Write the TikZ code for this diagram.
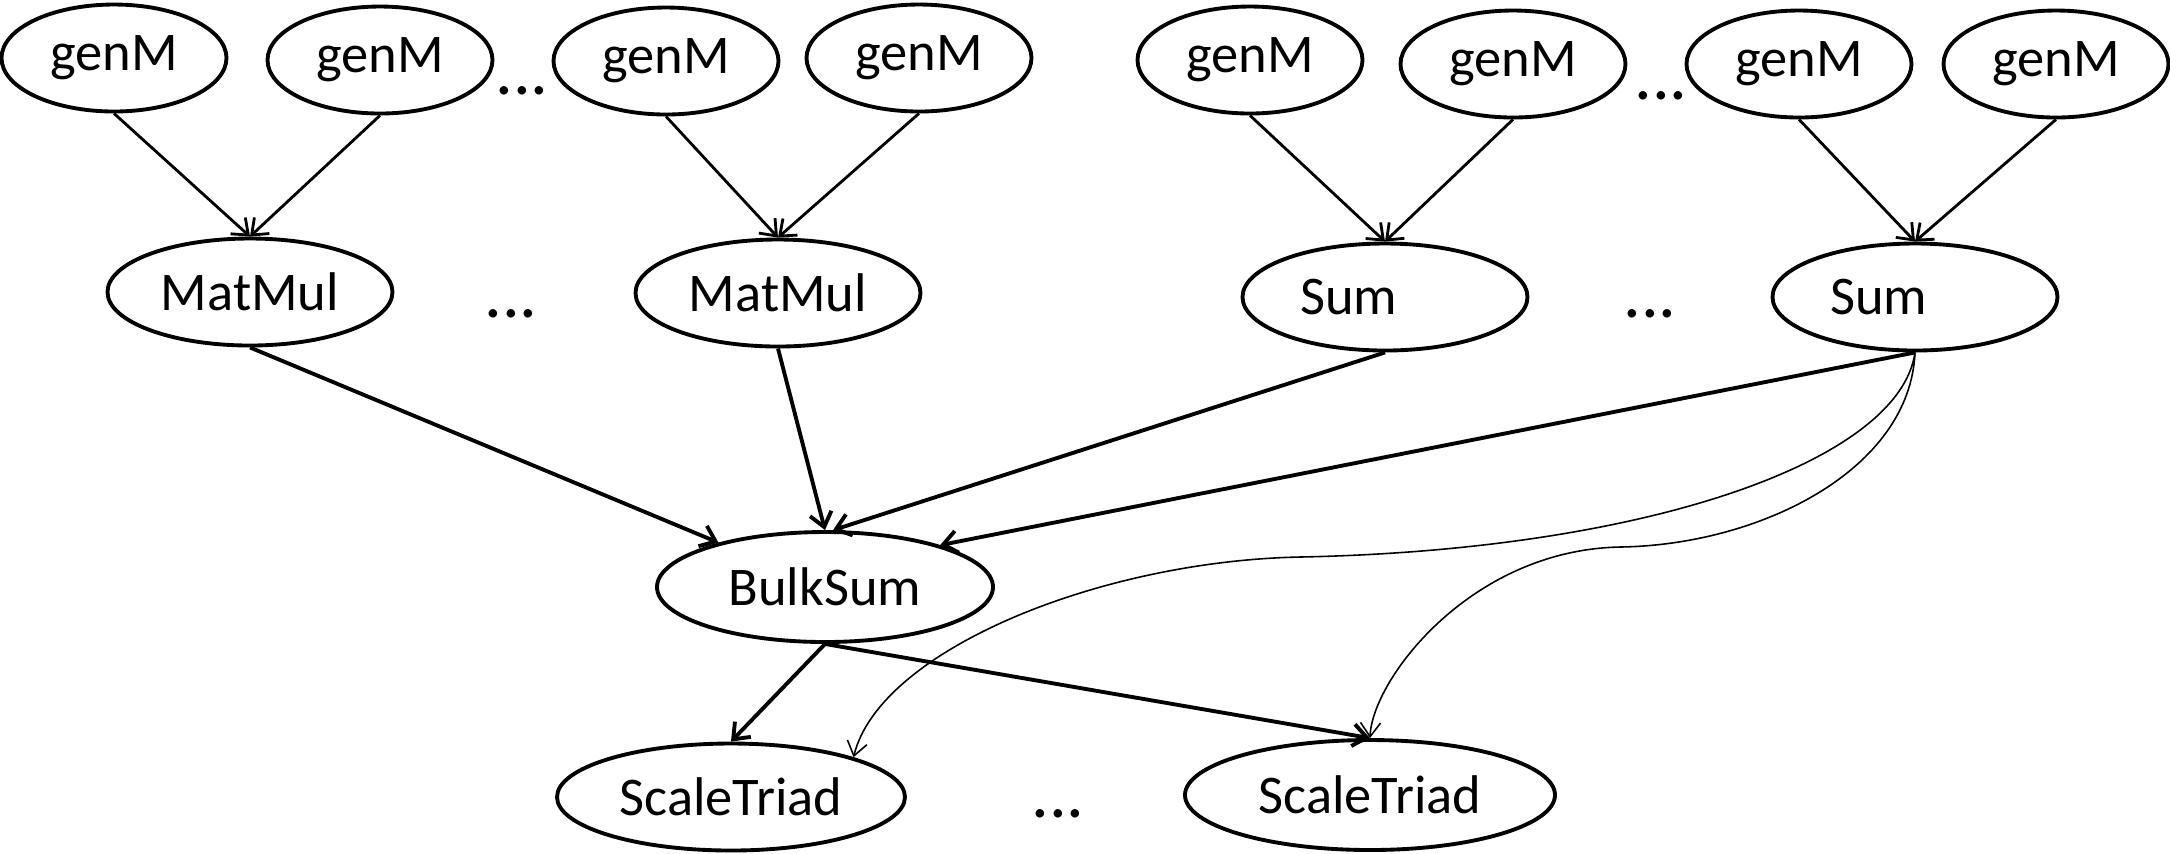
\documentclass[tikz,border=0pt]{standalone}
\usepackage{fontspec}
\setmainfont{Carlito}
\usetikzlibrary{shapes.geometric,arrows.meta}

\begin{document}
\begin{tikzpicture}[
  nodo/.style={ellipse,draw,line width=1.1pt,inner sep=1pt,
    minimum height=1.07cm,font=\fontsize{15.5}{18}\selectfont},
  nodosomma/.style={nodo,text width=1.7cm,align=left},
  puntini/.style={anchor=base,inner sep=0pt,font=\fontsize{20}{24}\selectfont},
  freccia/.style={-{Straight Barb[length=1.4mm,width=2.2mm]},line width=0.8pt},
  frecciaspessa/.style={freccia,line width=1.1pt},
  curva/.style={-{Straight Barb[length=1.4mm,width=2mm]},line width=0.45pt}]
  \useasboundingbox (0,0) rectangle (21.70,-8.53);
  % Riga superiore: i generatori.
  \foreach \nome/\x/\y in {gen1/1.14/-0.58, gen2/3.80/-0.60, gen3/6.66/-0.61,
    gen4/9.19/-0.58, gen5/12.50/-0.60, gen6/15.13/-0.64, gen7/17.99/-0.64,
    gen8/20.56/-0.64}{
    \node[nodo,minimum width=2.25cm] (\nome) at (\x,\y) {genM};
  }
  % Riga intermedia: prodotti e somme.
  \node[nodo,minimum width=2.85cm] (mm1) at (2.50,-2.92) {MatMul};
  \node[nodo,minimum width=2.85cm] (mm2) at (7.78,-2.93) {MatMul};
  \node[nodosomma,minimum width=2.85cm] (somma1) at (13.85,-2.97) {Sum};
  \node[nodosomma,minimum width=2.85cm] (somma2) at (19.15,-2.97) {Sum};
  % Riduzione e riga finale.
  \node[nodo,minimum width=3.36cm,minimum height=1.10cm] (bulk) at (8.25,-5.87) {BulkSum};
  \node[nodo,minimum width=3.48cm] (scala1) at (7.31,-7.97) {ScaleTriad};
  \node[nodo,minimum width=3.70cm,minimum height=1.10cm] (scala2) at (13.70,-7.95) {ScaleTriad};
  % Puntini tra i gruppi.
  \node[puntini] (puntiA) at (5.22,-0.94) {...};
  \node[puntini] (puntiB) at (16.61,-0.99) {...};
  \node[puntini] (puntiC) at (5.11,-3.17) {...};
  \node[puntini] (puntiD) at (16.50,-3.17) {...};
  \node[puntini] (puntiE) at (10.58,-8.17) {...};
  % Archi dai generatori.
  \foreach \da/\a in {gen1/mm1, gen2/mm1, gen3/mm2, gen4/mm2,
    gen5/somma1, gen6/somma1, gen7/somma2, gen8/somma2}{
    \draw[freccia] (\da.south) -- (\a.north);
  }
  % Archi verso BulkSum e da BulkSum.
  \draw[frecciaspessa] (mm1.south) -- (bulk);
  \draw[frecciaspessa] (mm2.south) -- (bulk.north);
  \draw[frecciaspessa] (somma1.south) -- (bulk.82);
  \draw[frecciaspessa] (somma2.south) -- (bulk.20);
  \draw[frecciaspessa] (bulk.south) -- (scala1.north);
  \draw[frecciaspessa] (bulk.south) -- (scala2.north);
  % Curve sottili dall'ultima somma.
  \coordinate (piegaA) at (13.00,-5.57);
  \coordinate (piegaB) at (16.20,-5.47);
  \draw[curva] (somma2.south) .. controls (19.00,-4.60) and (16.50,-5.50) .. (piegaA)
    .. controls (11.00,-5.61) and (8.80,-6.50) .. (scala1.18);
  \draw[curva] (somma2.south) .. controls (19.10,-4.70) and (17.60,-5.45) .. (piegaB)
    .. controls (14.70,-5.50) and (13.72,-6.80) .. (scala2.north);
\end{tikzpicture}
\end{document}
